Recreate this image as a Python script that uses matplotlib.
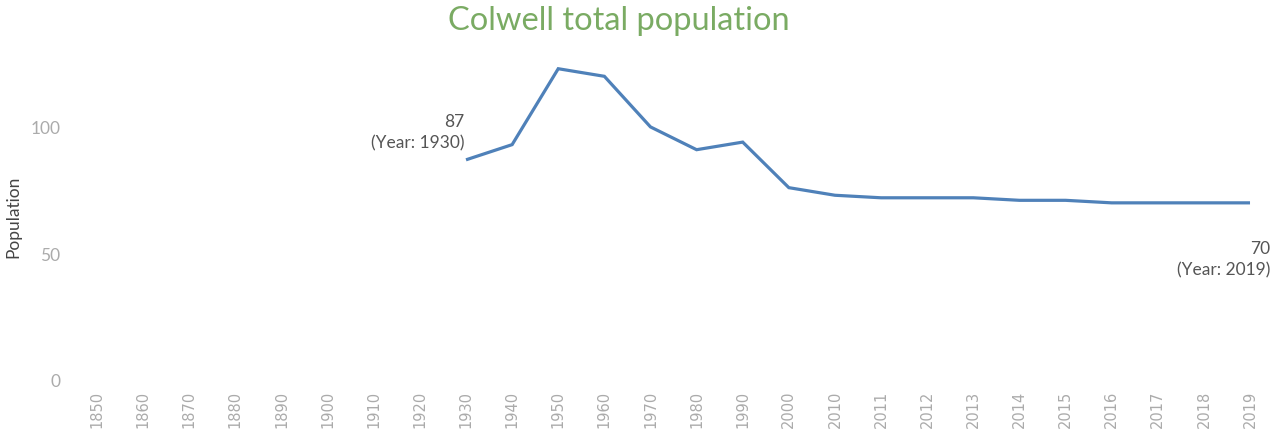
import numpy as np
import matplotlib
matplotlib.use("Agg")
import matplotlib.pyplot as plt

years = ["1850", "1860", "1870", "1880", "1890", "1900", "1910", "1920", "1930",
         "1940", "1950", "1960", "1970", "1980", "1990", "2000", "2010",
         "2011", "2012", "2013", "2014", "2015", "2016", "2017", "2018", "2019"]
population = [None] * 8 + [87, 93, 123, 120, 100, 91, 94, 76, 73,
                           72, 72, 72, 71, 71, 70, 70, 70, 70]
y_ticks = [0, 50, 100]

line_color = "#4f81b9"
tick_color = "#ababab"
text_color = "#555555"

vals = np.array([np.nan if v is None else v for v in population], dtype=float)
x = np.arange(len(years))

fig = plt.figure(figsize=(12.78, 4.39), dpi=100)
ax = fig.add_axes([80 / 1278, 58 / 439, (1268 - 80) / 1278, (387 - 58) / 439])

ax.plot(x, vals, color=line_color, lw=2.3, solid_capstyle="butt", solid_joinstyle="miter")

ax.set_xlim(-0.37, len(years) - 1 + 0.39)
ax.set_ylim(0, 130)
ax.set_xticks(x)
ax.set_xticklabels(years, rotation=90, fontsize=10.5, color=tick_color)
ax.set_yticks(y_ticks)
ax.set_yticklabels([str(t) for t in y_ticks], fontsize=12.5, color=tick_color, family="Lato")
ax.tick_params(axis="both", length=0)
ax.tick_params(axis="y", pad=14)
ax.tick_params(axis="x", pad=7)
for s in ax.spines.values():
    s.set_visible(False)

ax.set_ylabel("Population", fontsize=12.5, color="#444444", family="Lato")
ax.yaxis.set_label_coords(-0.049, 0.5)
fig.text(0.484, 0.952, "Colwell total population", ha="center", va="center",
         fontsize=23.5, color="#7aab63", family="Lato")

# labels for first and last point
first = int(np.where(~np.isnan(vals))[0][0])
last = len(vals) - 1
ax.annotate(f"{int(vals[first])}\n(Year: {years[first]})", xy=(x[first], vals[first]),
            xytext=(-2, 9), textcoords="offset pixels", ha="right", va="bottom",
            fontsize=12.5, color=text_color, family="Lato", linespacing=1.45,
            multialignment="right")
ax.annotate(f"{int(vals[last])}\n(Year: {years[last]})", xy=(x[last], vals[last]),
            xytext=(20, -37), textcoords="offset pixels", ha="right", va="top",
            fontsize=12.5, color=text_color, family="Lato", linespacing=1.45,
            multialignment="right", annotation_clip=False)

fig.savefig("out.png", dpi=100)
